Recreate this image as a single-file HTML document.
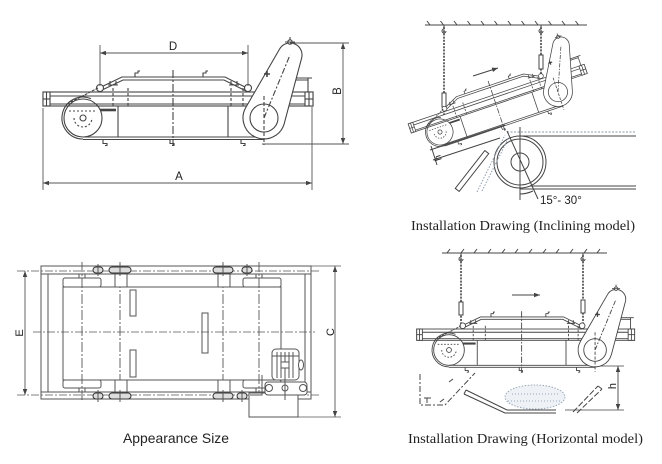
<!DOCTYPE html>
<html><head><meta charset="utf-8"><style>
html,body{margin:0;padding:0;background:#fff}
svg{display:block}
</style></head><body>
<svg width="662" height="464" viewBox="0 0 662 464" xmlns="http://www.w3.org/2000/svg" font-family="'Liberation Sans', sans-serif">
<defs>
<marker id="a" viewBox="0 0 8 6" refX="8" refY="3" markerWidth="6" markerHeight="4.5" markerUnits="userSpaceOnUse" orient="auto-start-reverse"><path d="M0,0L8,3L0,6z" fill="#444"/></marker>
<g id="m" fill="none" stroke="#444" stroke-width="1.1">
  <rect x="-40" y="-26" width="270" height="14"/>
  <line x1="-40" y1="-22" x2="230" y2="-22"/>
  <line x1="-40" y1="-14" x2="230" y2="-14"/>
  <rect x="-40" y="-26" width="7" height="14" fill="#fff"/>
  <line x1="-40" y1="-19" x2="-33" y2="-19"/>
  <line x1="-36.5" y1="-26" x2="-36.5" y2="-12"/>
  <rect x="222" y="-26" width="8" height="14" fill="#fff"/>
  <line x1="222" y1="-19" x2="230" y2="-19"/>
  <line x1="226" y1="-26" x2="226" y2="-12"/>
  <line x1="35" y1="-12" x2="35" y2="19"/>
  <line x1="145" y1="-12" x2="145" y2="19"/>
  <line x1="0" y1="19" x2="181" y2="19"/>
  <line x1="0" y1="21.5" x2="181" y2="21.5"/>
  <path d="M20 21.5v4h4v2h-2 M87 21.5v4h4v2h-2 M158 21.5v4h4v2h-2"/>
  <path d="M14 -29 L39 -41 L142 -41 L166 -29"/>
  <path d="M17 -27 L40 -38 L141 -38 L163 -27"/>
  <path d="M52 -41v-4h3v-2h2 M120 -41v-4h3v-2h2"/>
  <circle cx="17" cy="-30" r="3.5" fill="#fff"/>
  <circle cx="165" cy="-30" r="3.5" fill="#fff"/>
  <path d="M25 -33 h10 M27 -33 v-4 M33 -33 v-4 M146 -33 h10 M148 -33 v-4 M154 -33 v-4"/>
  <path d="M30 -30 V-12 M45 -30 V-12 M148 -30 V-12 M160 -30 V-12" stroke-dasharray="3 2"/>
  <line x1="90" y1="-48" x2="90" y2="28" stroke-dasharray="8 2 2 2"/>
  <circle cx="0" cy="0" r="19"/>
  <path d="M8 -19.4 A21 21 0 1 0 0 21"/>
  <path d="M-16 -14 L15 -30" stroke-dasharray="3 1"/>
  <circle cx="0" cy="0" r="3"/>
  <path d="M-9 0 A9 9 0 0 0 9 0" stroke-dasharray="2 2"/>
  <line x1="-14" y1="-7" x2="14" y2="-7" stroke-dasharray="2 2"/>
  <line x1="17" y1="-8" x2="33" y2="-8" stroke-width="2.6"/>
  <path d="M209 -40 H229 M209 -38 H225 M225 -40 V-26"/>
  <path d="M201.3 5.4 L218.6 -59.9 A12 12 0 0 0 196.6 -69 L162.8 -10.5 A21 21 0 1 0 201.3 5.4 Z" fill="#fff"/>
  <circle cx="181" cy="0" r="14"/>
  <line x1="181" y1="0" x2="207" y2="-63" stroke-dasharray="6 2 2 2"/>
  <line x1="181" y1="-22" x2="181" y2="27" stroke-dasharray="4 2"/>
  <circle cx="207" cy="-76" r="2.2" fill="#fff"/>
  <path d="M202 -76 h10 M207 -78 v-3"/>
  <path d="M187 -44 h-6 M184 -47 v6" stroke-width="1.6"/>
</g>
</defs>

<!-- ============ TOP LEFT ============ -->
<use href="#m" transform="translate(83,118)"/>
<g stroke="#555" stroke-width="0.9" fill="none">
  <path d="M100 45 V86 M248 45 V86"/>
  <line x1="100" y1="53" x2="248" y2="53" marker-start="url(#a)" marker-end="url(#a)"/>
  <path d="M43 108 V190 M312 107 V190"/>
  <line x1="43" y1="183" x2="312" y2="183" marker-start="url(#a)" marker-end="url(#a)"/>
  <path d="M290 43 H349 M262 144 H349"/>
  <line x1="343" y1="43" x2="343" y2="144" marker-start="url(#a)" marker-end="url(#a)"/>
</g>
<g fill="#222" font-size="11.5">
  <text x="173" y="50" text-anchor="middle">D</text>
  <text x="179" y="180" text-anchor="middle">A</text>
  <text transform="translate(341,91) rotate(-90)" text-anchor="middle">B</text>
</g>

<!-- ============ TOP RIGHT (inclined) ============ -->
<g stroke="#444" stroke-width="1" fill="none">
  <line x1="425" y1="25" x2="587" y2="25"/>
  <path d="M430 25l-3 -4M443.5 25l-3 -4M457 25l-3 -4M470.5 25l-3 -4M484 25l-3 -4M497.5 25l-3 -4M511 25l-3 -4M524.5 25l-3 -4M538 25l-3 -4M551.5 25l-3 -4M565 25l-3 -4M578.5 25l-3 -4"/>
  <line x1="444" y1="27" x2="444" y2="115" stroke-width="1.6" stroke-dasharray="2 1.2"/>
  <rect x="442" y="93" width="4" height="14" fill="#fff"/>
  <path d="M444 25 v4 a2 2 0 1 0 2 2"/>
  <line x1="541" y1="27" x2="541" y2="78" stroke-width="1.6" stroke-dasharray="2 1.2"/>
  <rect x="539" y="55" width="4" height="14" fill="#fff"/>
  <path d="M541 25 v4 a2 2 0 1 0 2 2"/>
  <line x1="473" y1="76" x2="498" y2="68" marker-end="url(#a)"/>
</g>
<use href="#m" transform="translate(440,132) rotate(-18.7) scale(0.688)"/>
<g stroke="#444" stroke-width="1" fill="none">
  <line x1="507" y1="132" x2="636" y2="132" stroke="#8a98a8" stroke-dasharray="2 1.5"/>
  <line x1="520" y1="136" x2="636" y2="136"/>
  <line x1="520" y1="186" x2="636" y2="186"/>
  <line x1="520" y1="189" x2="636" y2="189"/>
  <circle cx="520" cy="162" r="26" fill="#fff"/>
  <circle cx="520" cy="162" r="23"/>
  <circle cx="520" cy="162" r="9"/>
  <line x1="520" y1="127" x2="520" y2="200"/>
  <line x1="507" y1="131" x2="538" y2="199"/>
  <path d="M520 194 A32 32 0 0 0 533 191"/>
  <path d="M477 192 L505 135 M482 191 L509 137" stroke="#8fa0b4" stroke-dasharray="1.5 1.5"/>
  <g transform="translate(472,171) rotate(-52)"><rect x="-24" y="-2.5" width="48" height="5" fill="#fff"/></g>
  <path d="M430 150 L505 125 M433 160 L500 138 M431 146 L437 165"/>
</g>
<g fill="#222">
  <text transform="translate(441,157) rotate(-108)" font-size="10" text-anchor="middle">h</text>
  <text x="540" y="204" font-size="11.5">15°- 30°</text>
  <text x="411" y="230" font-family="'Liberation Serif', serif" font-size="13.5" textLength="224" lengthAdjust="spacingAndGlyphs">Installation Drawing (Inclining model)</text>
</g>

<!-- ============ BOTTOM LEFT (plan) ============ -->
<g stroke="#555" stroke-width="1" fill="none">
  <rect x="41" y="266" width="270" height="133"/>
  <line x1="41" y1="274" x2="311" y2="274"/>
  <line x1="41" y1="392" x2="311" y2="392"/>
  <line x1="48" y1="274" x2="48" y2="392"/>
  <line x1="305" y1="274" x2="305" y2="392"/>
  <path d="M17 271 H320 M17 395 H320" stroke-dasharray="8 2 2 2" stroke-width="0.8"/>
  <rect x="63" y="287" width="218" height="93"/>
  <rect x="63" y="278" width="38" height="9" rx="2"/>
  <rect x="243" y="278" width="38" height="9" rx="2"/>
  <rect x="63" y="380" width="38" height="8" rx="2"/>
  <rect x="243" y="380" width="38" height="8" rx="2"/>
  <path d="M82 262 V402 M120 262 V402 M223 262 V402 M259 262 V402" stroke-dasharray="10 2 2 2" stroke-width="0.9"/>
  <path d="M33 332 H315" stroke-dasharray="8 2 2 2" stroke-width="0.8"/>
  <rect x="130" y="290" width="6" height="26"/>
  <rect x="130" y="350" width="6" height="27"/>
  <rect x="202" y="313" width="6" height="40"/>
  <rect x="115" y="274" width="12" height="13" fill="#fff"/>
  <rect x="218" y="274" width="12" height="13" fill="#fff"/>
  <rect x="115" y="380" width="12" height="12" fill="#fff"/>
  <rect x="218" y="380" width="12" height="12" fill="#fff"/>
  <rect x="79" y="274" width="6" height="4"/>
  <rect x="256" y="274" width="6" height="4"/>
  <rect x="79" y="388" width="6" height="4"/>
  <rect x="256" y="388" width="6" height="4"/>
  <g fill="#ddd" stroke="#333">
    <rect x="93" y="267" width="10" height="6" rx="3"/>
    <rect x="109" y="267" width="22" height="6" rx="3"/>
    <rect x="213" y="267" width="20" height="6" rx="3"/>
    <rect x="242" y="267" width="10" height="6" rx="3"/>
    <rect x="93" y="393" width="10" height="6" rx="3"/>
    <rect x="109" y="393" width="22" height="6" rx="3"/>
    <rect x="213" y="393" width="20" height="6" rx="3"/>
    <rect x="237" y="393" width="10" height="6" rx="3"/>
  </g>
  <path d="M98 264 V276 M120 264 V276 M223 264 V276 M247 264 V276 M98 390 V402 M120 390 V402 M223 390 V402 M242 390 V402"/>
  <!-- motor -->
  <rect x="249" y="393" width="49" height="24" fill="#fff"/>
  <path d="M262 375 V395 H250"/>
  <rect x="272" y="349" width="27" height="31" rx="4" fill="#fff"/>
  <path d="M277 352 V378 M281 352 V378 M285 352 V378 M289 352 V378 M293 352 V378 M272 356 H299"/>
  <rect x="281" y="362" width="8" height="6" fill="#fff"/>
  <ellipse cx="301" cy="365" rx="2.5" ry="5" fill="#fff"/>
  <rect x="265" y="382" width="42" height="13" rx="3" fill="#fff"/>
  <circle cx="269" cy="388" r="3.5" fill="#fff"/>
  <circle cx="303" cy="388" r="3.5" fill="#fff"/>
  <circle cx="285" cy="388" r="3" fill="#fff"/>
  <path d="M285 378 V400"/>
  <!-- dims -->
  <line x1="25" y1="271" x2="25" y2="395" marker-start="url(#a)" marker-end="url(#a)" stroke-width="0.9"/>
  <path d="M311 266 H341 M298 417 H341" stroke-width="0.8"/>
  <line x1="335" y1="266" x2="335" y2="417" marker-start="url(#a)" marker-end="url(#a)" stroke-width="0.9"/>
</g>
<g fill="#222">
  <text transform="translate(23,333) rotate(-90)" font-size="11" text-anchor="middle">E</text>
  <text transform="translate(334,332) rotate(-90)" font-size="11" text-anchor="middle">C</text>
  <text x="123" y="443" font-size="14" textLength="106" lengthAdjust="spacingAndGlyphs">Appearance Size</text>
</g>

<!-- ============ BOTTOM RIGHT (horizontal) ============ -->
<g stroke="#444" stroke-width="1" fill="none">
  <line x1="442" y1="253" x2="607" y2="253"/>
  <path d="M447 253l3 -4M461 253l3 -4M474 253l3 -4M488 253l3 -4M502 253l3 -4M515 253l3 -4M529 253l3 -4M543 253l3 -4M556 253l3 -4M570 253l3 -4M584 253l3 -4M597 253l3 -4"/>
  <line x1="461" y1="255" x2="461" y2="325" stroke-width="1.6" stroke-dasharray="2 1.2"/>
  <rect x="459" y="302" width="4" height="13" fill="#fff"/>
  <path d="M461 253 v4 a2 2 0 1 0 2 2"/>
  <line x1="583" y1="255" x2="583" y2="323" stroke-width="1.6" stroke-dasharray="2 1.2"/>
  <rect x="581" y="300" width="4" height="13" fill="#fff"/>
  <path d="M583 253 v4 a2 2 0 1 0 2 2"/>
  <line x1="512" y1="295" x2="540" y2="295" marker-end="url(#a)"/>
</g>
<use href="#m" transform="translate(449,350) scale(0.807)"/>
<g stroke="#444" stroke-width="1" fill="none">
  <path d="M600 366 H624 M565 410 H624" stroke-width="0.8"/>
  <line x1="618" y1="366" x2="618" y2="410" marker-start="url(#a)" marker-end="url(#a)" stroke-width="0.9"/>
  <path d="M420 374 V405 H445 L475 373" stroke-dasharray="6 2 2 2"/>
  <path d="M424 398 h7 M427 398 v5 M440 402 l4 -3 M449 382 l4 -3"/>
  <path d="M466 390 L507 410 H556 M464 394 L505 413 H556"/>
  <path d="M466 390 L464 394"/>
  <path d="M573 412 L598 386 M577 413 L602 389 M598 386 L602 389" stroke-dasharray="6 2"/>
  <ellipse cx="535" cy="397" rx="30" ry="12" fill="#eef2f6" stroke="#9aa8b8" stroke-dasharray="1.5 1.5"/>
  <path d="M512 394 H560 M508 401 H562" stroke="#9aa8b8" stroke-dasharray="1 2"/>
</g>
<g fill="#222">
  <text transform="translate(616,386) rotate(-90)" font-size="11" text-anchor="middle">h</text>
  <text x="408" y="443" font-family="'Liberation Serif', serif" font-size="13.5" textLength="235" lengthAdjust="spacingAndGlyphs">Installation Drawing (Horizontal model)</text>
</g>
</svg>
</body></html>
